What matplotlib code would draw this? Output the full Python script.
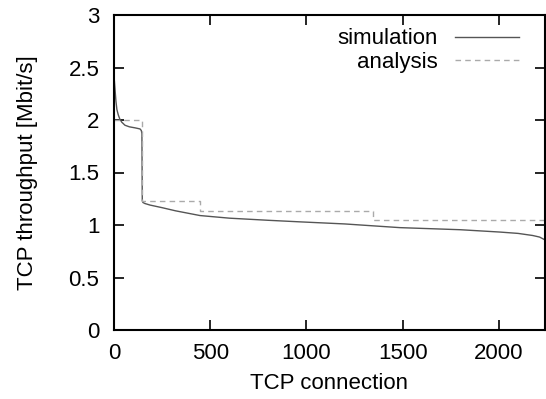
import matplotlib
matplotlib.use("Agg")
import matplotlib.pyplot as plt

plt.rcParams['font.family'] = ['Liberation Sans', 'DejaVu Sans']

# simulation curve (sorted per-connection throughput)
sim_x = [0, 5, 10, 15, 22, 30, 40, 57, 80, 110, 135, 142, 145, 147, 150, 160, 187,
         250, 320, 447, 600, 800, 966, 1200, 1485, 1800, 2004, 2100, 2176, 2212, 2238]
sim_y = [2.42, 2.30, 2.18, 2.10, 2.05, 2.01, 1.98, 1.95, 1.935, 1.925, 1.915, 1.90, 1.87, 1.23, 1.215, 1.205, 1.19,
         1.165, 1.135, 1.09, 1.065, 1.045, 1.03, 1.01, 0.975, 0.955, 0.933, 0.92, 0.90, 0.885, 0.86]

# analysis step function
ana_x = [0, 147, 147, 447, 447, 1346, 1346, 2240]
ana_y = [2.0, 2.0, 1.229, 1.229, 1.130, 1.130, 1.048, 1.048]

x_ticks = [0, 500, 1000, 1500, 2000]
y_ticks = [0, 0.5, 1, 1.5, 2, 2.5, 3]
y_ticklabels = ['0', '0.5', '1', '1.5', '2', '2.5', '3']

FS = 16

fig = plt.figure(figsize=(5.46, 3.99), dpi=100)
ax = fig.add_axes([114/546, 1-330/399, (545-114)/546, (330-15)/399])

ax.plot(sim_x, sim_y, color='#555555', lw=1.0, label='simulation')
ax.plot(ana_x, ana_y, color='#aaaaaa', lw=1.0, ls=(0, (4, 3)), label='analysis')

ax.set_xlim(0, 2240)
ax.set_ylim(0, 3)
ax.set_xticks(x_ticks)
ax.set_yticks(y_ticks)
ax.set_yticklabels(y_ticklabels)
ax.tick_params(direction='in', length=7, width=1.2, labelsize=FS,
               top=True, right=True)
ax.tick_params(axis='y', pad=10.5)
ax.tick_params(axis='x', pad=9.5)
for s in ax.spines.values():
    s.set_linewidth(1.5)

ax.set_xlabel('TCP connection', fontsize=FS, labelpad=6)
ax.set_ylabel('TCP throughput [Mbit/s]', fontsize=FS, labelpad=22)

leg = ax.legend(loc='upper right', frameon=False, markerfirst=False, fontsize=FS,
                handlelength=2.9, handletextpad=0.75, labelspacing=0.1,
                borderaxespad=0.2, bbox_to_anchor=(0.971, 1.0))
for t in leg.get_texts():
    t.set_ha('right')

fig.savefig('out.png', dpi=100)
